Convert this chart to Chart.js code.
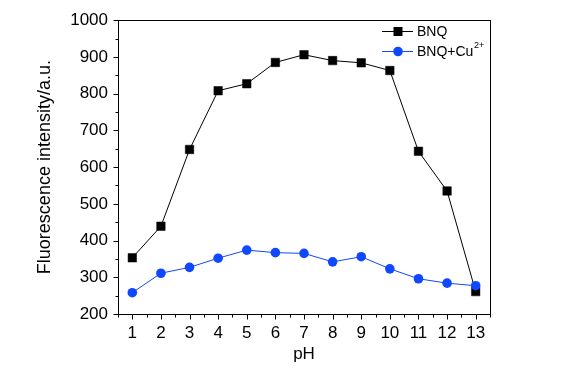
<!DOCTYPE html>
<html>
<head>
<meta charset="utf-8">
<script src="https://cdn.jsdelivr.net/npm/chart.js@4/dist/chart.umd.min.js"></script>
<style>
  html, body { margin: 0; padding: 0; background: #fff; }
  #wrap { width: 561px; height: 386px; }
</style>
</head>
<body>
<div id="wrap"><canvas id="chart" width="561" height="386"></canvas></div>
<script>
const phValues = [1, 2, 3, 4, 5, 6, 7, 8, 9, 10, 11, 12, 13]
const bnqValues = [353, 439, 648, 808, 827, 885, 906, 890, 884, 863, 643, 535, 261]
const cuValues = [258, 311, 327, 352, 374, 367, 365, 342, 356, 323, 296, 284, 277]
const yTicks = [200, 300, 400, 500, 600, 700, 800, 900, 1000]

const FONT = "'Liberation Sans', Arial, sans-serif"
const BLUE = "#0f48ff"

// frame + outward major/minor ticks
const framePlugin = {
  id: "frame",
  afterDraw(chart) {
    const { ctx, chartArea: a, scales } = chart
    ctx.save()
    ctx.strokeStyle = "#000"
    ctx.lineWidth = 1
    ctx.strokeRect(Math.round(a.left) + 0.5, Math.round(a.top) + 0.5, Math.round(a.right - a.left), Math.round(a.bottom - a.top))
    ctx.beginPath()
    const yb = Math.round(a.bottom) + 0.5
    for (let v = 0.5; v <= 13.5; v += 0.5) {
      const x = Math.round(scales.x.getPixelForValue(v)) + 0.5
      const len = Number.isInteger(v) ? 5 : 3
      ctx.moveTo(x, yb)
      ctx.lineTo(x, yb + len)
    }
    const xl = Math.round(a.left) + 0.5
    for (let v = 200; v <= 1000; v += 50) {
      const y = Math.round(scales.y.getPixelForValue(v)) + 0.5
      const len = v % 100 === 0 ? 5 : 3
      ctx.moveTo(xl, y)
      ctx.lineTo(xl - len, y)
    }
    ctx.stroke()
    ctx.restore()
  }
}

// legend like the origin plot
const legendPlugin = {
  id: "originLegend",
  afterDraw(chart) {
    const ctx = chart.ctx
    ctx.save()
    const x0 = 382, x1 = 413, xm = 398
    // BNQ
    let y = 31
    ctx.strokeStyle = "#000"
    ctx.lineWidth = 1
    ctx.beginPath(); ctx.moveTo(x0, y + 0.5); ctx.lineTo(x1, y + 0.5); ctx.stroke()
    ctx.fillStyle = "#000"
    ctx.fillRect(xm - 4.5, y - 4, 9, 9)
    ctx.font = "14px " + FONT
    ctx.textBaseline = "middle"
    ctx.fillText("BNQ", 417, y + 1)
    // BNQ+Cu2+
    y = 51
    ctx.strokeStyle = BLUE
    ctx.beginPath(); ctx.moveTo(x0, y + 0.5); ctx.lineTo(x1, y + 0.5); ctx.stroke()
    ctx.fillStyle = BLUE
    ctx.beginPath(); ctx.arc(xm, y + 0.5, 4.8, 0, Math.PI * 2); ctx.fill()
    ctx.fillStyle = "#000"
    ctx.fillText("BNQ+Cu", 417, y + 1)
    const w = ctx.measureText("BNQ+Cu").width
    ctx.font = "9px " + FONT
    ctx.fillText("2+", 417 + w + 0.5, y - 5)
    ctx.restore()
  }
}

new Chart(document.getElementById("chart"), {
  type: "line",
  data: {
    datasets: [
      {
        label: "BNQ",
        data: phValues.map((p, i) => ({ x: p, y: bnqValues[i] })),
        borderColor: "#000",
        backgroundColor: "#000",
        borderWidth: 1,
        pointStyle: "rect",
        pointRadius: 6,
        pointBorderWidth: 0.5,
        order: 1
      },
      {
        label: "BNQ+Cu2+",
        data: phValues.map((p, i) => ({ x: p, y: cuValues[i] })),
        borderColor: BLUE,
        backgroundColor: BLUE,
        borderWidth: 1,
        pointStyle: "circle",
        pointRadius: 4.8,
        pointBorderWidth: 0,
        order: 0
      }
    ]
  },
  options: {
    responsive: false,
    animation: false,
    layout: { padding: { top: 16, right: 71, left: 0, bottom: 0 } },
    plugins: { legend: { display: false }, tooltip: { enabled: false } },
    scales: {
      x: {
        type: "linear",
        min: 0.5,
        max: 13.5,
        afterBuildTicks: (s) => { s.ticks = phValues.map((v) => ({ value: v })) },
        afterFit: (s) => { s.height = 72 },
        grid: { display: false, drawTicks: false },
        border: { display: false },
        ticks: { color: "#000", padding: 9, font: { family: FONT, size: 17 }, maxRotation: 0, autoSkip: false, callback: (v) => String(v) },
        title: { display: true, text: "pH", color: "#000", font: { family: FONT, size: 17 }, padding: { bottom: 21, top: 0 } }
      },
      y: {
        min: 200,
        max: 1000,
        afterBuildTicks: (s) => { s.ticks = yTicks.map((v) => ({ value: v })) },
        afterFit: (s) => { s.width = 118 },
        grid: { display: false, drawTicks: false },
        border: { display: false },
        ticks: { color: "#000", padding: 10, font: { family: FONT, size: 17 }, callback: (v) => String(v) },
        title: { display: true, text: "Fluorescence intensity/a.u.", color: "#000", font: { family: FONT, size: 18 }, padding: { top: 34, bottom: 0 } }
      }
    }
  },
  plugins: [framePlugin, legendPlugin]
})
</script>
</body>
</html>
